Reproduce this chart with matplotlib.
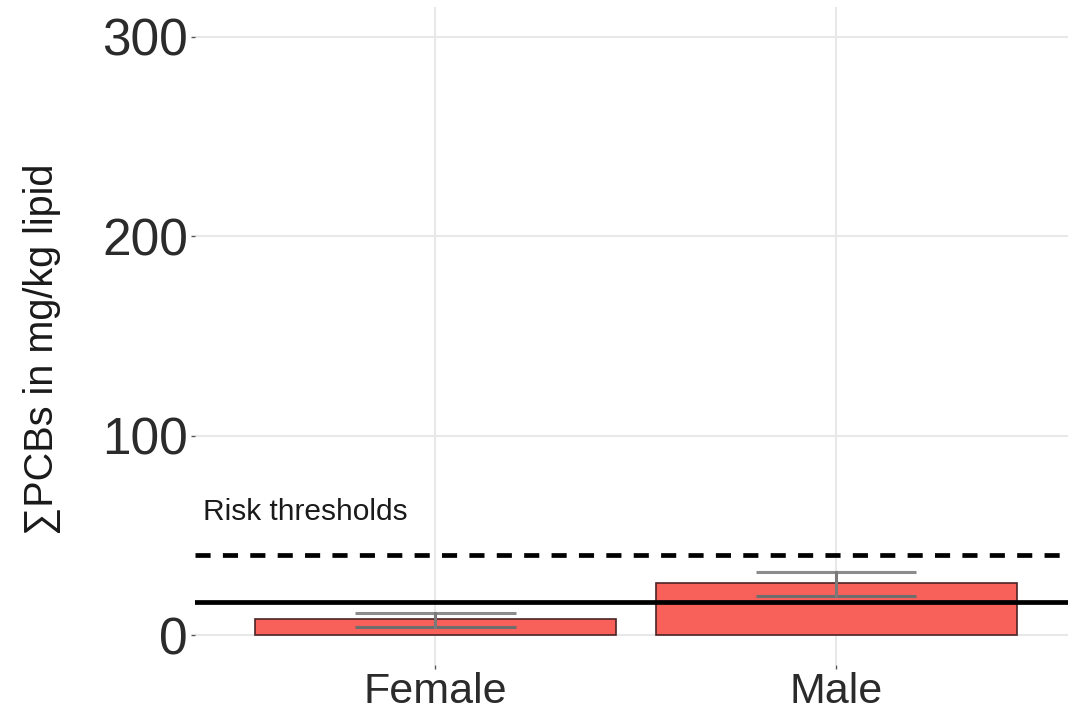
import numpy as np
import matplotlib.pyplot as plt

plt.rcParams['font.family'] = ['Liberation Sans', 'DejaVu Sans']

# data
sexes = ['Female', 'Male']
mean_pcb = [8, 26]
err_low = [4, 19.5]
err_high = [11, 31.5]
threshold_low = 16.5
threshold_high = 40
y_ticks = [0, 100, 200, 300]

fig = plt.figure(figsize=(10.68, 7.11), dpi=100)
ax = fig.add_axes([195 / 1068, 46 / 711, 1 - 195 / 1068, 1 - 53 / 711])

x = np.arange(1, len(sexes) + 1)
ax.bar(x, mean_pcb, width=0.9, color='#f8605a', edgecolor='#4a2424', linewidth=1.2, zorder=2)

for xi, lo, hi in zip(x, err_low, err_high):
    ax.plot([xi - 0.2, xi + 0.2], [lo, lo], color='#6e6e6e', lw=2.2, zorder=3, solid_capstyle='butt')
    ax.plot([xi - 0.2, xi + 0.2], [hi, hi], color='#8c8c8c', lw=2.2, zorder=3, solid_capstyle='butt')
    ax.plot([xi, xi], [lo, hi], color='#7a7a7a', lw=2.2, zorder=3)

ax.axhline(threshold_high, color='black', lw=3.4, ls=(0, (3.2, 2.6)), zorder=4)
ax.axhline(threshold_low, color='black', lw=3.4, zorder=4)
ax.text(0.42, 61.5, 'Risk thresholds', fontsize=21.5, va='center', ha='left', color='#1a1a1a')

ax.set_xlim(0.4, 2.578)
ax.set_ylim(-15, 315)
ax.set_xticks(x)
ax.set_xticklabels(sexes, fontsize=31, color='#2b2b2b')
ax.set_yticks(y_ticks)
ax.set_yticklabels([str(t) for t in y_ticks], fontsize=37, color='#2b2b2b')
ax.tick_params(axis='both', length=3, width=1, color='#555555', pad=2)
fig.text(42 / 1068, 1 - 349 / 711, '∑PCBs in mg/kg lipid', fontsize=28.5, color='#1a1a1a',
         rotation=90, ha='center', va='center')

ax.grid(True, color='#e8e8e8', lw=1.5, zorder=0)
ax.set_axisbelow(True)
for s in ax.spines.values():
    s.set_visible(False)

fig.savefig('out.png', dpi=100)
